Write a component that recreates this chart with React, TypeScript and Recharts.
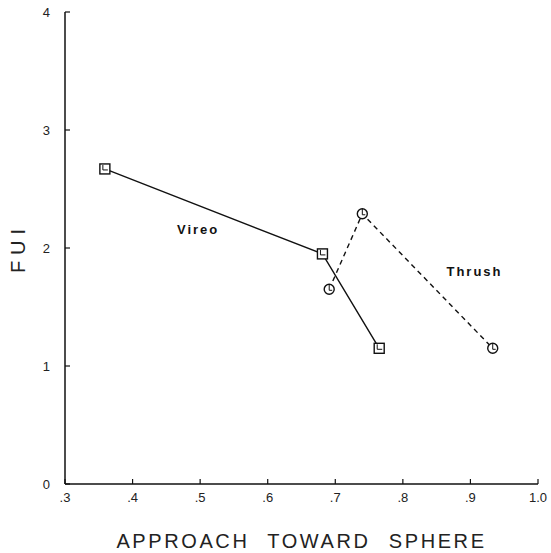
import React from 'react';
import { ScatterChart, Scatter, XAxis, YAxis, ReferenceDot } from 'recharts';

const xTicks = [0.3, 0.4, 0.5, 0.6, 0.7, 0.8, 0.9, 1.0];
const yTicks = [0, 1, 2, 3, 4];

const vireoX = [0.359, 0.681, 0.765];
const vireoY = [2.67, 1.95, 1.15];
const thrushX = [0.691, 0.74, 0.933];
const thrushY = [1.65, 2.29, 1.15];

const vireo = vireoX.map((x, i) => ({ x, y: vireoY[i] }));
const thrush = thrushX.map((x, i) => ({ x, y: thrushY[i] }));

const seriesLabels = [
  { name: 'Vireo', x: 0.497, y: 2.16 },
  { name: 'Thrush', x: 0.906, y: 1.805 },
];

const FONT = '"Liberation Sans", Arial, sans-serif';

const SquareMark = (props: any) => {
  const { cx, cy } = props;
  if (cx == null || cy == null) return null;
  return (
    <g>
      <rect x={cx - 5} y={cy - 5} width={10} height={10} fill="#fff" stroke="#111" strokeWidth={1.4} />
      <path d={`M${cx - 2},${cy - 4} L${cx - 2},${cy + 1} L${cx + 3},${cy + 1}`} fill="none" stroke="#111" strokeWidth={1} />
    </g>
  );
};

const CircleMark = (props: any) => {
  const { cx, cy } = props;
  if (cx == null || cy == null) return null;
  return (
    <g>
      <circle cx={cx} cy={cy} r={5} fill="#fff" stroke="#111" strokeWidth={1.4} />
      <path d={`M${cx},${cy - 5} L${cx},${cy + 1} L${cx + 3},${cy + 1}`} fill="none" stroke="#111" strokeWidth={1} />
    </g>
  );
};

const fmtX = (v: number) => (v >= 0.999 ? '1.0' : '.' + Math.round(v * 10));

export default function App() {
  return (
    <div style={{ position: 'absolute', left: 0, top: 0, background: '#fff' }}>
      <ScatterChart width={551} height={553} margin={{ top: 12, right: 13, left: 0, bottom: 0 }}>
        <XAxis
          type="number"
          dataKey="x"
          domain={[0.3, 1.0]}
          ticks={xTicks}
          tickFormatter={fmtX}
          height={69}
          tickSize={-5}
          tickMargin={14}
          axisLine={{ stroke: '#111', strokeWidth: 1.5 }}
          tickLine={{ stroke: '#111', strokeWidth: 1.2 }}
          tick={{ fill: '#222', fontSize: 13, fontFamily: FONT }}
          allowDataOverflow
          label={{
            value: 'APPROACH TOWARD SPHERE',
            position: 'insideBottom',
            offset: 5,
            style: { fill: '#222', fontSize: 20, fontFamily: FONT, letterSpacing: 2.6, wordSpacing: 10 },
          }}
        />
        <YAxis
          type="number"
          dataKey="y"
          domain={[0, 4]}
          ticks={yTicks}
          width={65}
          tickSize={-5}
          tickMargin={20}
          axisLine={{ stroke: '#111', strokeWidth: 1.5 }}
          tickLine={{ stroke: '#111', strokeWidth: 1.2 }}
          tick={{ fill: '#222', fontSize: 13, fontFamily: FONT }}
          label={{
            value: 'FUI',
            angle: -90,
            position: 'insideLeft',
            offset: 18,
            style: { fill: '#222', fontSize: 20, fontFamily: FONT, letterSpacing: 6, textAnchor: 'middle' },
          }}
        />
        <Scatter
          name="Vireo"
          data={vireo}
          line={{ stroke: '#111', strokeWidth: 1.4 }}
          lineType="joint"
          shape={<SquareMark />}
          isAnimationActive={false}
        />
        <Scatter
          name="Thrush"
          data={thrush}
          line={{ stroke: '#111', strokeWidth: 1.4, strokeDasharray: '5 4' }}
          lineType="joint"
          shape={<CircleMark />}
          isAnimationActive={false}
        />
        {seriesLabels.map((l) => (
          <ReferenceDot
            key={l.name}
            x={l.x}
            y={l.y}
            r={1}
            fill="none"
            stroke="none"
            label={{
              value: l.name,
              position: 'center',
              style: { fill: '#111', fontSize: 13, fontWeight: 'bold', fontFamily: FONT, letterSpacing: 2 },
            }}
          />
        ))}
      </ScatterChart>
    </div>
  );
}
